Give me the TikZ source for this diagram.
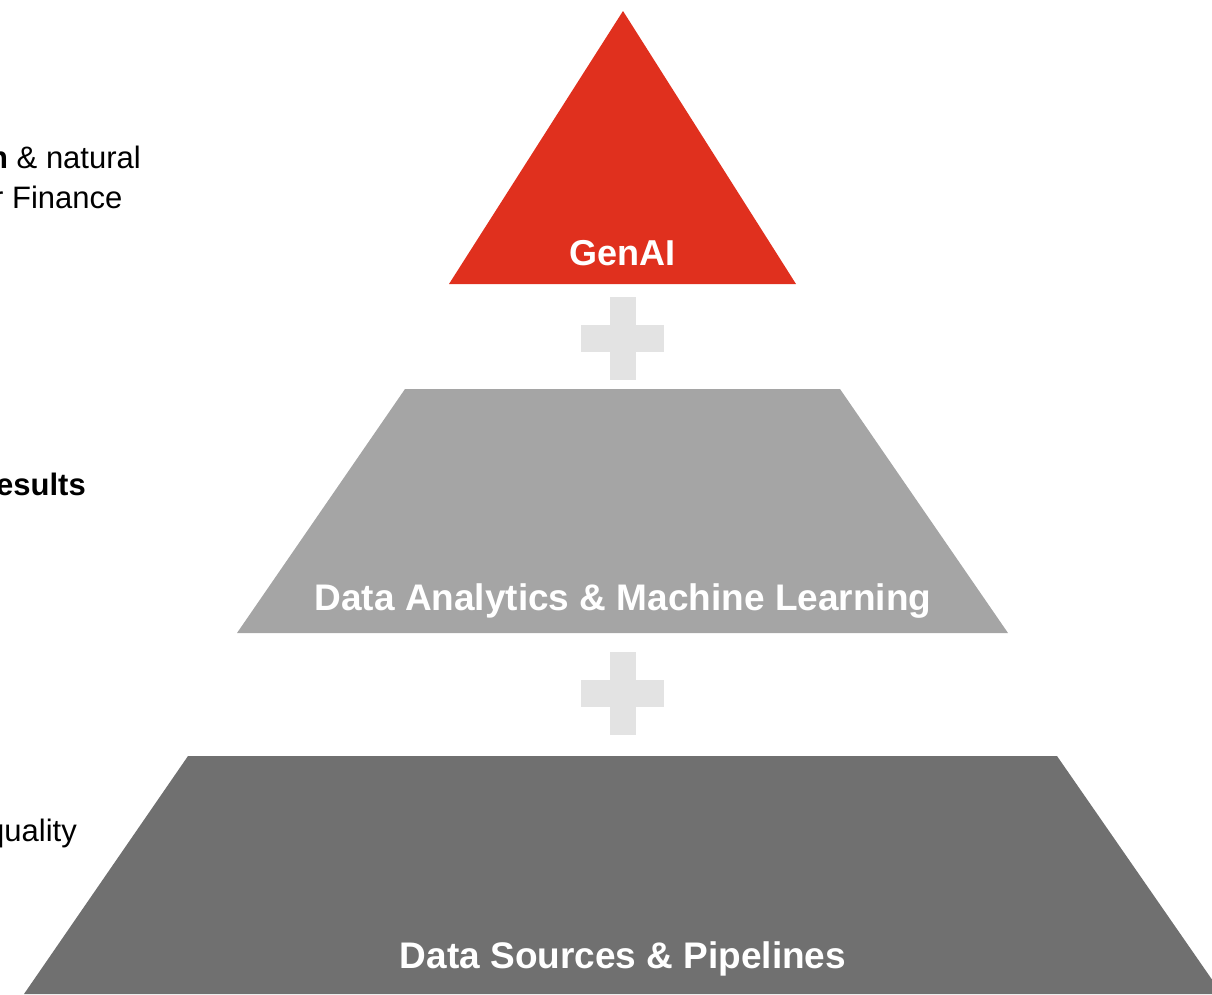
\documentclass[tikz,border=0pt]{standalone}
\usepackage{fontspec}
\setmainfont{Liberation Sans}
\definecolor{pwcred}{HTML}{E0301E}
\definecolor{midgray}{HTML}{A5A5A5}
\definecolor{darkgray}{HTML}{707070}
\definecolor{crossgray}{HTML}{E3E3E3}
\tikzset{
  tierlabel/.style={inner sep=0pt, anchor=base, text=white, font=\fontsize{37}{44}\selectfont\bfseries},
  sidetext/.style={inner sep=0pt, text=black, font=\fontsize{31}{37}\selectfont},
  crossfill/.style={fill=crossgray},
}
\begin{document}
\begin{tikzpicture}[x=1pt,y=-1pt]
\useasboundingbox (0,0) rectangle (1212,994);
\clip (0,0) rectangle (1212,994);
% tiers
\fill[pwcred] (623,11) -- (796,284) -- (449,284) -- cycle;
\fill[midgray] (405,389) -- (840,389) -- (1008,633) -- (237,633) -- cycle;
\fill[darkgray] (188,756) -- (1057,756) -- (1222,994) -- (24,994) -- cycle;
% crosses
\fill[crossfill] (610,297) rectangle (636,380);
\fill[crossfill] (581,325) rectangle (664,352);
\fill[crossfill] (610,652) rectangle (636,735);
\fill[crossfill] (581,680) rectangle (664,707);
% labels
\node[tierlabel, font=\fontsize{36}{43}\selectfont\bfseries] (genai) at (622,265) {GenAI};
\node[tierlabel] (daml) at (623,610) {Data Analytics \& Machine Learning};
\node[tierlabel] (dsp) at (623,968) {Data Sources \& Pipelines};
% side texts (clipped at left edge, as in the reference)
\node[sidetext, anchor=base west] (t1) at (-11,168) {\textbf{n} \& natural};
\node[sidetext, anchor=base west] (t2) at (-7,208) {r Finance};
\node[sidetext, anchor=base east, font=\fontsize{31}{37}\selectfont\bfseries] (t3) at (86,495) {esults};
\node[sidetext, anchor=base east] (t4) at (77,841) {quality};
\end{tikzpicture}
\end{document}
